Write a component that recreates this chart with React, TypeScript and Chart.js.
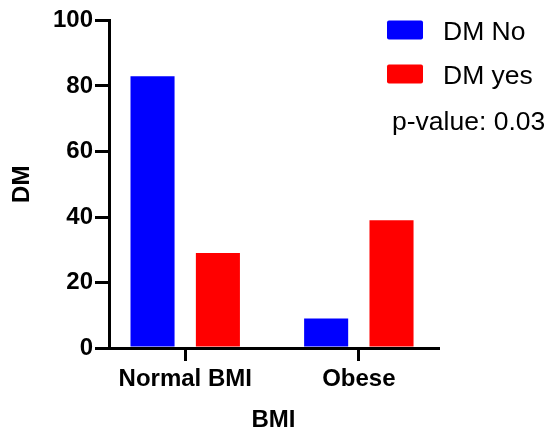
import React, { useEffect, useRef } from "react";
import { Chart, registerables } from "chart.js";

Chart.register(...registerables);

// ---- data ----
const categories = ["Normal BMI", "Obese"];
const seriesLabels = ["DM No", "DM yes"];
const dmNo = [83, 9];
const dmYes = [29, 39];
const seriesColors = ["#0000FF", "#FF0000"];
const yTicks = [0, 20, 40, 60, 80, 100];
const xTitle = "BMI";
const yTitle = "DM";
const pValueText = "p-value: 0.03";

const FONT = '"Liberation Sans", Arial, Helvetica, sans-serif';

const legendPlugin = {
  id: "customLegend",
  afterDraw(chart: any) {
    const ctx = chart.ctx;
    ctx.save();
    const boxX = 387;
    const boxW = 36;
    const boxH = 19;
    const textX = 443;
    const baselines = [39.5, 83.5];
    ctx.font = `26.5px ${FONT}`;
    ctx.textBaseline = "alphabetic";
    ctx.textAlign = "left";
    chart.data.datasets.forEach((ds: any, i: number) => {
      const base = baselines[i];
      ctx.fillStyle = ds.backgroundColor;
      ctx.beginPath();
      if (ctx.roundRect) ctx.roundRect(boxX, base - boxH, boxW, boxH, 2);
      else ctx.rect(boxX, base - boxH, boxW, boxH);
      ctx.fill();
      ctx.fillStyle = "#000";
      ctx.fillText(ds.label, textX, base);
    });
    ctx.fillStyle = "#000";
    ctx.fillText(pValueText, 392, 130);
    ctx.restore();
  },
};

export default function App() {
  const canvasRef = useRef<HTMLCanvasElement | null>(null);

  useEffect(() => {
    document.body.style.margin = "0";
    const canvas = canvasRef.current;
    if (!canvas) return;
    const series = [dmNo, dmYes];
    const chart = new Chart(canvas, {
      type: "bar",
      data: {
        datasets: series.map((vals, s) => ({
          label: seriesLabels[s],
          data: vals.map((y, i) => ({ x: i, y })),
          backgroundColor: seriesColors[s],
          borderWidth: 0,
          categoryPercentage: 0.753,
          barPercentage: 0.674,
        })),
      },
      options: {
        animation: false,
        responsive: true,
        maintainAspectRatio: false,
        layout: { padding: { top: 20.5, right: 109, bottom: 0, left: 0 } },
        plugins: {
          legend: { display: false },
          tooltip: { enabled: false },
        },
        scales: {
          x: {
            type: "linear",
            offset: false,
            min: -0.439,
            max: 1.456,
            z: 1,
            afterBuildTicks: (scale: any) => {
              scale.ticks = categories.map((_, i) => ({ value: i }));
            },
            afterFit: (scale: any) => {
              scale.height = 85;
            },
            ticks: {
              callback: (v: any) => categories[Math.round(Number(v))] ?? "",
              color: "#000",
              font: { family: FONT, size: 24, weight: "bold", lineHeight: 1.2 },
              padding: 4,
              maxRotation: 0,
              autoSkip: false,
              includeBounds: false,
            },
            grid: {
              offset: false,
              drawOnChartArea: false,
              drawTicks: true,
              tickLength: 13,
              color: "#000",
              lineWidth: 3,
            },
            border: { display: true, color: "#000", width: 3 },
            title: {
              display: true,
              text: xTitle,
              color: "#000",
              font: { family: FONT, size: 24, weight: "bold", lineHeight: 1 },
              padding: { top: 0, bottom: 1 },
            },
          },
          y: {
            min: 0,
            max: 100,
            z: 1,
            afterBuildTicks: (scale: any) => {
              scale.ticks = yTicks.map((v) => ({ value: v }));
            },
            afterFit: (scale: any) => {
              scale.width = 109;
            },
            ticks: {
              color: "#000",
              font: { family: FONT, size: 24, weight: "bold", lineHeight: 1.2 },
              padding: 2,
            },
            grid: {
              drawOnChartArea: false,
              drawTicks: true,
              tickLength: 14,
              color: "#000",
              lineWidth: 3,
            },
            border: { display: true, color: "#000", width: 3 },
            title: {
              display: true,
              text: yTitle,
              color: "#000",
              font: { family: FONT, size: 24, weight: "bold", lineHeight: 1 },
              padding: { top: 10, bottom: 0 },
            },
          },
        },
      },
      plugins: [legendPlugin],
    } as any);
    return () => chart.destroy();
  }, []);

  return (
    <div style={{ position: "relative", width: 547, height: 433 }}>
      <canvas ref={canvasRef} />
    </div>
  );
}
